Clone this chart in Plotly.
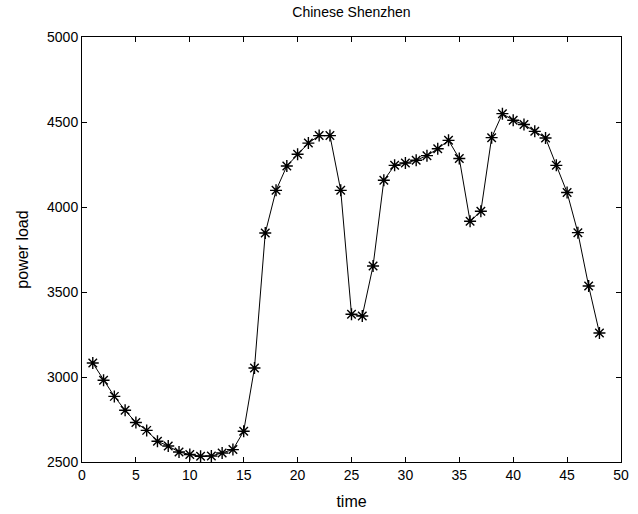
import plotly.graph_objects as go

time = list(range(1, 49))
power_load = [3082, 2981, 2886, 2804, 2732, 2686, 2622, 2594, 2559, 2544,
              2534, 2535, 2553, 2573, 2681, 3053, 3847, 4098, 4241, 4310,
              4376, 4420, 4420, 4098, 3369, 3359, 3653, 4157, 4245, 4259,
              4275, 4302, 4343, 4392, 4285, 3916, 3975, 4408, 4549, 4510,
              4485, 4445, 4406, 4245, 4085, 3849, 3535, 3259]

x_ticks = list(range(0, 51, 5))
y_ticks = [2500, 3000, 3500, 4000, 4500, 5000]

font_family = "Liberation Sans, Arial, sans-serif"

fig = go.Figure()
fig.add_trace(go.Scatter(
    x=time, y=power_load, mode="lines+markers",
    line=dict(color="black", width=1),
    marker=dict(symbol="asterisk-open", size=10, color="black",
                line=dict(color="black", width=1.4)),
    showlegend=False,
))

axis_common = dict(
    showgrid=False, zeroline=False, showline=True, linecolor="black",
    linewidth=1, mirror="ticks", ticks="inside", ticklen=5, tickcolor="black",
    tickwidth=1, tickfont=dict(family=font_family, size=14, color="black"),
    automargin=False,
)

fig.update_layout(
    width=638, height=514,
    margin=dict(l=82, r=17, t=37, b=52),
    paper_bgcolor="white", plot_bgcolor="white",
    title=dict(text="Chinese Shenzhen", x=0.5, xanchor="center",
               xref="paper", y=0.977, yanchor="middle",
               font=dict(family=font_family, size=14, color="black")),
    xaxis=dict(range=[0, 50], tickvals=x_ticks,
               title=dict(text="time", standoff=14,
                          font=dict(family=font_family, size=16, color="black")),
               **axis_common),
    yaxis=dict(range=[2500, 5000], tickvals=y_ticks,
               title=dict(text="power load", standoff=14,
                          font=dict(family=font_family, size=16, color="black")),
               **axis_common),
)

fig.write_html("out.html")
